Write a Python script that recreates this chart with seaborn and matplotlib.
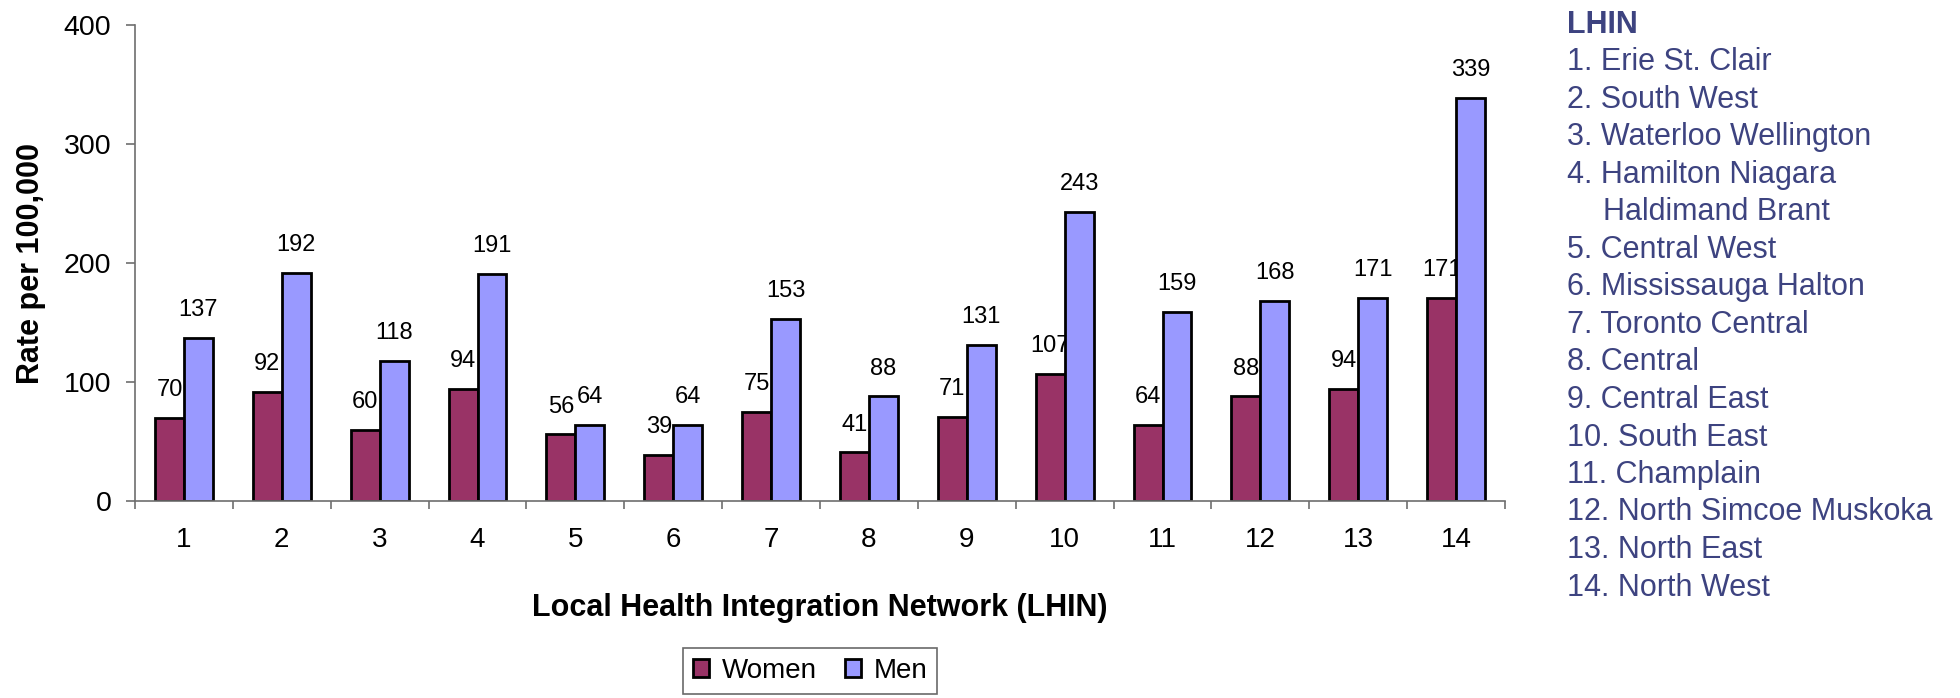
import matplotlib
matplotlib.use("Agg")
import matplotlib.pyplot as plt
from matplotlib.patches import Patch
from matplotlib.ticker import FixedLocator
import numpy as np
import pandas as pd
import seaborn as sns

# Rates per 100,000 by Local Health Integration Network
lhin_ids = [str(i) for i in range(1, 15)]
women = [70, 92, 60, 94, 56, 39, 75, 41, 71, 107, 64, 88, 94, 171]
men = [137, 192, 118, 191, 64, 64, 153, 88, 131, 243, 159, 168, 171, 339]
series_names = ["Women", "Men"]
lhin_names = [
    "1. Erie St. Clair",
    "2. South West",
    "3. Waterloo Wellington",
    "4. Hamilton Niagara",
    "Haldimand Brant",
    "5. Central West",
    "6. Mississauga Halton",
    "7. Toronto Central",
    "8. Central",
    "9. Central East",
    "10. South East",
    "11. Champlain",
    "12. North Simcoe Muskoka",
    "13. North East",
    "14. North West",
]

df = pd.DataFrame({
    "LHIN": lhin_ids * 2,
    "Sex": ["Women"] * len(women) + ["Men"] * len(men),
    "Rate": women + men,
})

sns.set_style("white")
plt.rcParams["font.family"] = ["Liberation Sans", "DejaVu Sans"]
plt.rcParams["text.color"] = "black"
plt.rcParams["axes.labelcolor"] = "black"
plt.rcParams["xtick.color"] = "black"
plt.rcParams["ytick.color"] = "black"

palette = {"Women": "#993366", "Men": "#9999FF"}
list_color = "#3D4380"
axis_gray = "#6E6E6E"

fig = plt.figure(figsize=(19.6, 6.98), dpi=100)
ax = fig.add_axes([135 / 1960, 1 - 501 / 698, 1370 / 1960, 476 / 698])

sns.barplot(
    data=df, x="LHIN", y="Rate", hue="Sex", order=lhin_ids,
    hue_order=series_names, palette=palette, width=0.59, gap=0,
    edgecolor="black", linewidth=2.0, saturation=1, legend=False, ax=ax,
    errorbar=None,
)

# value labels; the women's labels sit beneath the men's bars
for cont, name in zip(ax.containers, series_names):
    for bar in cont:
        bar.set_zorder(2)
    labels = ax.bar_label(cont, fmt="%d", padding=12, fontsize=17, color="black")
    for t in labels:
        t.set_zorder(1.5 if name == "Women" else 3)

ax.set_xlim(-0.5, len(lhin_ids) - 0.5)
ax.set_ylim(0, 400)
ax.set_yticks([0, 100, 200, 300, 400])

# category boundaries carry the x tick marks
ax.xaxis.set_minor_locator(FixedLocator(np.arange(-0.5, len(lhin_ids), 1.0)))
ax.tick_params(axis="x", which="major", length=0, pad=19, labelsize=20,
               labelcolor="black")
ax.tick_params(axis="x", which="minor", length=6, width=1.2, color=axis_gray,
               direction="out", bottom=True)
ax.tick_params(axis="y", which="major", length=6.5, width=1.2, color=axis_gray,
               direction="out", pad=10.5, labelsize=20.5, left=True,
               labelcolor="black")

for side in ["top", "right"]:
    ax.spines[side].set_visible(False)
for side in ["left", "bottom"]:
    ax.spines[side].set_color(axis_gray)
    ax.spines[side].set_linewidth(1.2)

ax.set_xlabel("Local Health Integration Network (LHIN)", fontsize=22,
              fontweight="bold", va="center", color="black")
ax.xaxis.set_label_coords(0.5, (501 - 608) / 476)
ax.set_ylabel("Rate per 100,000", fontsize=22, fontweight="bold", va="center",
              color="black")
ax.yaxis.set_label_coords((31 - 135) / 1370, 0.5)

handles = [Patch(facecolor=palette[n], edgecolor="black", linewidth=2.0, label=n)
           for n in series_names]
leg = fig.legend(handles=handles, loc="center", ncol=2,
                 bbox_to_anchor=(810 / 1960, 1 - 671 / 698), fontsize=20,
                 frameon=True, fancybox=False, edgecolor="#444444",
                 handlelength=0.6, handleheight=0.6, handletextpad=0.45,
                 columnspacing=1.0, borderpad=0.35, labelcolor="black")
leg.get_frame().set_linewidth(1.2)

# LHIN key on the right
x0 = 1567 / 1960
fig.text(x0, 1 - 25 / 698, "LHIN", fontsize=22, fontweight="bold",
         color=list_color, ha="left", va="center")
for i, name in enumerate(lhin_names):
    y = 1 - (25 + 37.5 * (i + 1)) / 698
    x = x0 if name[0].isdigit() else 1603 / 1960
    fig.text(x, y, name, fontsize=22, color=list_color, ha="left", va="center")

fig.savefig("out.png", dpi=100)
